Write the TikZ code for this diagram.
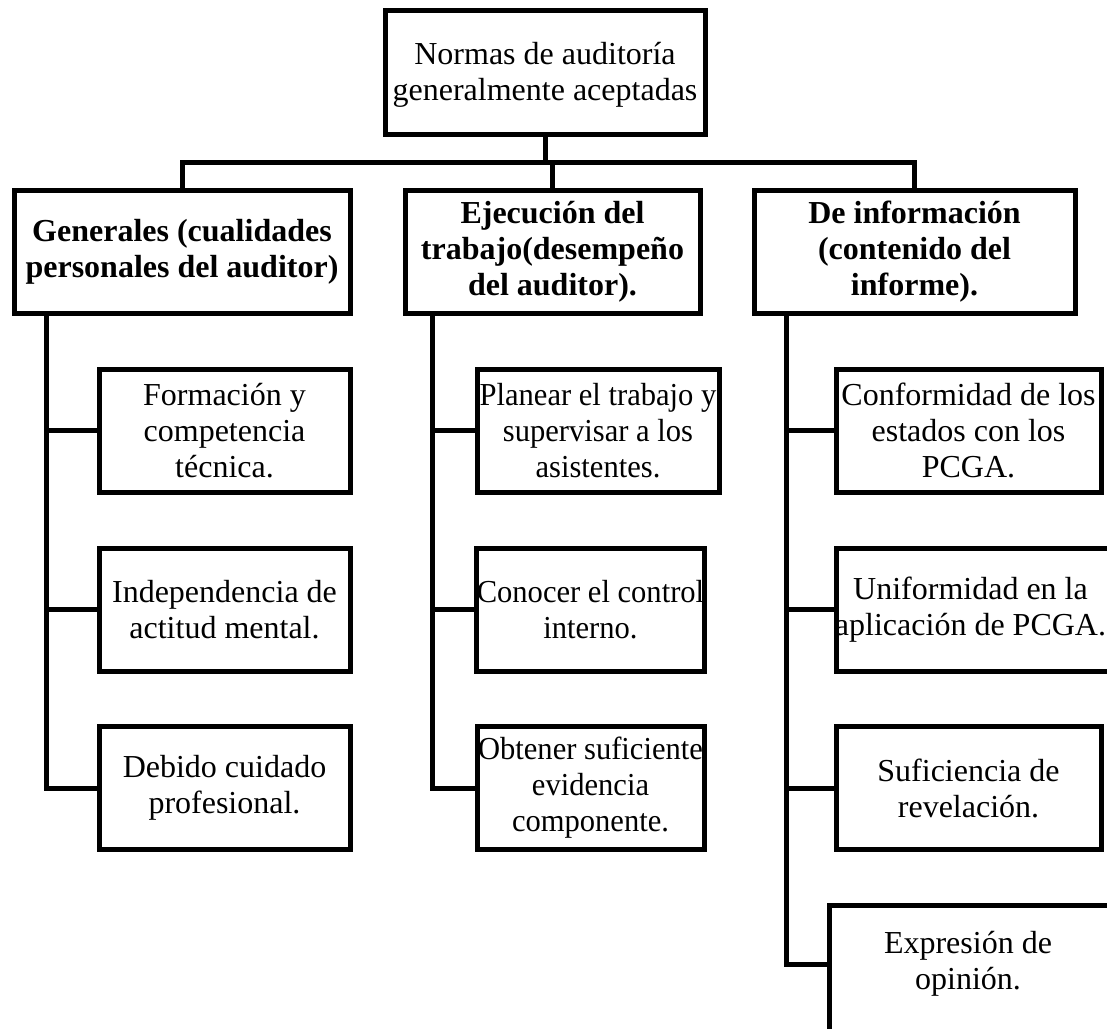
\documentclass[tikz,border=0pt]{standalone}
\usepackage{fontspec}
\setmainfont{Liberation Serif}
\newfontface\narrowserif[FakeStretch=0.955]{Liberation Serif}
\begin{document}
\begin{tikzpicture}[x=1pt,y=-1pt,
  txt/.style={inner sep=0pt, align=center, font=\fontsize{32}{36}\selectfont},
  box/.style={txt, draw, line width=5pt, minimum height=123},
  hbox/.style={box, font=\fontsize{32}{36}\selectfont\bfseries},
  nbox/.style={box, font=\fontsize{32}{36}\narrowserif},
  conn/.style={line width=5pt, line join=miter}]
\useasboundingbox (0,0) rectangle (1107,1028);
\clip (0,0) rectangle (1107,1028);
% top
\node[box, minimum width=320, minimum height=124] (top) at (545,72) {};
\node[txt] (toptext) at ([yshift=-3pt]top.center) {Normas de auditoría\\generalmente aceptadas};
% level 2
\node[hbox, minimum width=336] (gen) at (182,251.5) {Generales (cualidades\\personales del auditor)};
\node[hbox, minimum width=295] (eje) at (552.5,251.5) {Ejecución del\\trabajo(desempeño\\del auditor).};
\node[hbox, minimum width=321] (inf) at (914.5,251.5) {De información\\(contenido del\\informe).};
% left leaves
\node[box, minimum width=251] (g1) at (224.5,430.5) {Formación y\\competencia\\técnica.};
\node[box, minimum width=251] (g2) at (224.5,609.5) {Independencia de\\actitud mental.};
\node[box, minimum width=251] (g3) at (224.5,788) {Debido cuidado\\profesional.};
% middle leaves
\node[nbox, minimum width=242] (e1) at (598,430.5) {Planear el trabajo y\\supervisar a los\\asistentes.};
\node[nbox, minimum width=227] (e2) at (590.5,609.5) {Conocer el control\\interno.};
\node[nbox, minimum width=227] (e3) at (590.5,788) {Obtener suficiente\\evidencia\\componente.};
% right leaves
\node[box, minimum width=265] (i1) at (968.5,430.5) {Conformidad de los\\estados con los\\PCGA.};
\node[box, minimum width=276] (i2) at (974,609.5) {};
\node[txt] (i2text) at (970.5,609.5) {Uniformidad en la\\aplicación de PCGA.};
\node[box, minimum width=265] (i3) at (968.5,788) {Suficiencia de\\revelación.};
\node[box, minimum width=283, minimum height=132] (i4) at (970.5,971) {};
\node[txt] (i4text) at (968,964) {Expresión de\\opinión.};
% bus
\coordinate (bus) at (0,162);
\draw[conn] (top.south) -- (top.south |- bus);
\draw[conn] (gen.north) -- (gen.north |- bus) -- (inf.north |- bus) -- (inf.north);
\draw[conn] (eje.north) -- (eje.north |- bus);
% column spines
\coordinate (lv) at (46,0);
\coordinate (mv) at (432,0);
\coordinate (rv) at (786,0);
\draw[conn] (lv |- gen.south) |- (g3.west);
\draw[conn] (lv |- g1.west) -- (g1.west);
\draw[conn] (lv |- g2.west) -- (g2.west);
\draw[conn] (mv |- eje.south) |- (e3.west);
\draw[conn] (mv |- e1.west) -- (e1.west);
\draw[conn] (mv |- e2.west) -- (e2.west);
\draw[conn] (rv |- inf.south) |- (i4text.west -| i4.west);
\draw[conn] (rv |- i1.west) -- (i1.west);
\draw[conn] (rv |- i2.west) -- (i2.west);
\draw[conn] (rv |- i3.west) -- (i3.west);
\end{tikzpicture}
\end{document}
